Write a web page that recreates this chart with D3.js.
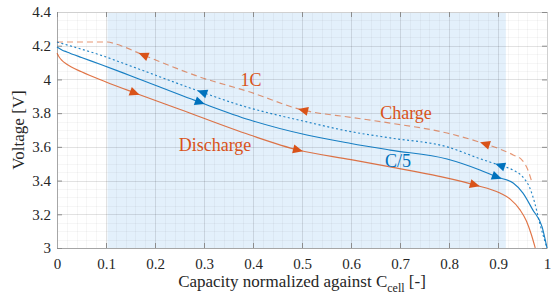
<!DOCTYPE html>
<html>
<head>
<meta charset="utf-8">
<title>Voltage vs capacity</title>
<script src="https://cdn.jsdelivr.net/npm/d3@7"></script>
<style>
  body { margin: 0; background: #fff; }
  svg text { font-family: "Liberation Serif", "Times New Roman", serif; }
</style>
</head>
<body>
<div id="chart"></div>
<script>
// --- data ---
var xTicks = [0, 0.1, 0.2, 0.3, 0.4, 0.5, 0.6, 0.7, 0.8, 0.9, 1];
var yTicks = [3, 3.2, 3.4, 3.6, 3.8, 4, 4.2, 4.4];
var shadeRange = [0.103, 0.916];

var dis1cX = [0, 0.005, 0.01, 0.02, 0.05, 0.1, 0.159, 0.25, 0.394, 0.492, 0.6, 0.68, 0.78, 0.853, 0.904, 0.925, 0.945, 0.958, 0.968, 0.976];
var dis1cV = [4.155, 4.13, 4.113, 4.09, 4.045, 3.985, 3.92, 3.823, 3.67, 3.581, 3.524, 3.481, 3.425, 3.374, 3.326, 3.29, 3.226, 3.16, 3.08, 3.0];

var disC5X = [0, 0.01, 0.02, 0.05, 0.088, 0.15, 0.29, 0.394, 0.51, 0.6, 0.68, 0.796, 0.863, 0.898, 0.931, 0.951, 0.971, 0.99, 1.0];
var disC5V = [4.192, 4.175, 4.163, 4.13, 4.09, 4.022, 3.866, 3.759, 3.67, 3.62, 3.581, 3.528, 3.463, 3.421, 3.386, 3.326, 3.226, 3.125, 3.0];

var chC5X = [0, 0.02, 0.088, 0.15, 0.294, 0.373, 0.51, 0.6, 0.68, 0.796, 0.863, 0.904, 0.931, 0.951, 0.965, 0.975, 0.985, 1.0];
var chC5V = [4.222, 4.205, 4.145, 4.08, 3.926, 3.848, 3.748, 3.69, 3.653, 3.6, 3.53, 3.49, 3.462, 3.42, 3.356, 3.267, 3.149, 3.0];

var ch1cX = [0, 0.103, 0.12, 0.176, 0.292, 0.394, 0.502, 0.6, 0.68, 0.796, 0.869, 0.904, 0.931, 0.949, 0.961, 0.969];
var ch1cV = [4.222, 4.222, 4.21, 4.145, 4.014, 3.925, 3.818, 3.775, 3.741, 3.682, 3.622, 3.587, 3.552, 3.522, 3.463, 3.392];

var orange = "#d95319";
var blue = "#0072bd";

var W = 560, H = 299;
var pLeft = 57, pRight = 547, pTop = 12, pBottom = 248;

var x = d3.scaleLinear().domain([0, 1]).range([pLeft, pRight]);
var y = d3.scaleLinear().domain([3, 4.4]).range([pBottom, pTop]);

var svg = d3.select("#chart").append("svg")
    .attr("width", W).attr("height", H);

// shaded window
svg.append("rect")
    .attr("x", x(shadeRange[0])).attr("y", pTop)
    .attr("width", x(shadeRange[1]) - x(shadeRange[0]))
    .attr("height", pBottom - pTop)
    .attr("fill", "#e3f0fb");

// minor grid
var gx = d3.range(0, 1.0001, 0.02);
var gy = d3.range(3, 4.4001, 0.05);
svg.append("g").selectAll("line").data(gx).enter().append("line")
    .attr("x1", d => Math.round(x(d)) + 0.5).attr("x2", d => Math.round(x(d)) + 0.5)
    .attr("y1", pTop).attr("y2", pBottom)
    .attr("stroke", "#000").attr("stroke-opacity", 0.035);
svg.append("g").selectAll("line").data(gy).enter().append("line")
    .attr("y1", d => Math.round(y(d)) + 0.5).attr("y2", d => Math.round(y(d)) + 0.5)
    .attr("x1", pLeft).attr("x2", pRight)
    .attr("stroke", "#000").attr("stroke-opacity", 0.035);

// major grid
svg.append("g").selectAll("line").data(xTicks).enter().append("line")
    .attr("x1", d => Math.round(x(d)) + 0.5).attr("x2", d => Math.round(x(d)) + 0.5)
    .attr("y1", pTop).attr("y2", pBottom)
    .attr("stroke", "#000").attr("stroke-opacity", 0.08);
svg.append("g").selectAll("line").data(yTicks).enter().append("line")
    .attr("y1", d => Math.round(y(d)) + 0.5).attr("y2", d => Math.round(y(d)) + 0.5)
    .attr("x1", pLeft).attr("x2", pRight)
    .attr("stroke", "#000").attr("stroke-opacity", 0.08);

// axes
var fmt = d => String(+d.toFixed(1));
var xAxis = svg.append("g").attr("transform", "translate(0," + pBottom + ")")
    .call(d3.axisBottom(x).tickValues(xTicks).tickSize(-5).tickPadding(10).tickFormat(fmt));
var yAxis = svg.append("g").attr("transform", "translate(" + pLeft + ",0)")
    .call(d3.axisLeft(y).tickValues(yTicks).tickSize(-5).tickPadding(6).tickFormat(fmt));
var xTop = svg.append("g").attr("transform", "translate(0," + pTop + ")")
    .call(d3.axisTop(x).tickValues(xTicks).tickSize(-5).tickFormat(""));
var yRight = svg.append("g").attr("transform", "translate(" + pRight + ",0)")
    .call(d3.axisRight(y).tickValues(yTicks).tickSize(-5).tickFormat(""));

[xAxis, yAxis, xTop, yRight].forEach(function(g) {
  g.select(".domain").attr("stroke", "#a6a6a6");
  g.selectAll(".tick line").attr("stroke", "#8c8c8c");
  g.selectAll(".tick text").attr("fill", "#262626").style("font-size", "15px")
    .style("font-family", "'Liberation Serif', serif");
});
xTop.select(".domain").attr("stroke", "#d0d0d0");
yRight.select(".domain").attr("stroke", "#d0d0d0");

// curves
var line = d3.line().x(d => x(d[0])).y(d => y(d[1])).curve(d3.curveMonotoneX);
var series = [
  { xs: dis1cX, vs: dis1cV, color: orange, dash: null, dir: 1, arrows: [0.159, 0.492, 0.853], opacity: 0.8 },
  { xs: ch1cX, vs: ch1cV, color: orange, dash: "6,4", dir: -1, arrows: [0.176, 0.502, 0.873], opacity: 0.6 },
  { xs: disC5X, vs: disC5V, color: blue, dash: null, dir: 1, arrows: [0.292, 0.898], opacity: 0.9 },
  { xs: chC5X, vs: chC5V, color: blue, dash: "2,2.5", dir: -1, arrows: [0.296, 0.904], opacity: 0.85 }
];

series.forEach(function(s) {
  var pts = s.xs.map((v, i) => [v, s.vs[i]]);
  var p = svg.append("path")
      .datum(pts)
      .attr("d", line)
      .attr("fill", "none")
      .attr("stroke", s.color)
      .attr("stroke-width", 1.15)
      .attr("stroke-opacity", s.opacity)
      .attr("stroke-dasharray", s.dash);
  var node = p.node();
  var len = node.getTotalLength();
  s.arrows.forEach(function(ax) {
    var target = x(ax), lo = 0, hi = len;
    for (var k = 0; k < 40; k++) {
      var mid = (lo + hi) / 2;
      if (node.getPointAtLength(mid).x < target) lo = mid; else hi = mid;
    }
    var a = node.getPointAtLength(Math.max(0, lo - 3));
    var b = node.getPointAtLength(Math.min(len, lo + 3));
    var c = node.getPointAtLength(lo);
    var ang = Math.atan2(b.y - a.y, b.x - a.x) * 180 / Math.PI + (s.dir < 0 ? 180 : 0);
    svg.append("path")
        .attr("d", "M5,0 L-5,-4.5 L-5,4.5 Z")
        .attr("fill", s.color)
        .attr("transform", "translate(" + c.x + "," + c.y + ") rotate(" + ang + ")");
  });
});

// annotations
function note(txt, px, py, color) {
  svg.append("text").attr("x", px).attr("y", py)
      .attr("text-anchor", "middle").attr("fill", color)
      .style("font-size", "18px").text(txt);
}
note("1C", 251, 86, orange);
note("Charge", 406, 119, orange);
note("Discharge", 215, 151, orange);
note("C/5", 398, 167, blue);

// axis labels
var xl = svg.append("text").attr("x", 302).attr("y", 287)
    .attr("text-anchor", "middle").attr("fill", "#262626").style("font-size", "17px");
xl.append("tspan").text("Capacity normalized against C");
xl.append("tspan").attr("dy", 5).style("font-size", "12px").text("cell");
xl.append("tspan").attr("dy", -5).text(" [-]");

svg.append("text")
    .attr("transform", "translate(24," + ((pTop + pBottom) / 2) + ") rotate(-90)")
    .attr("text-anchor", "middle").attr("fill", "#262626").style("font-size", "17px")
    .text("Voltage [V]");
</script>
</body>
</html>
